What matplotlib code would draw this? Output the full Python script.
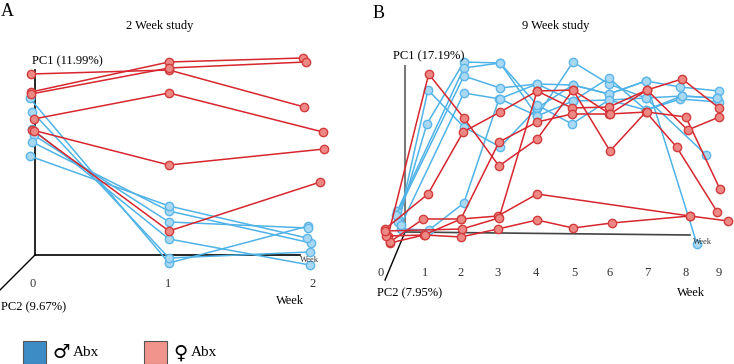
import matplotlib
matplotlib.use("Agg")
import matplotlib.pyplot as plt
from matplotlib.patches import Rectangle

plt.rcParams['font.family'] = ['Liberation Serif', 'DejaVu Sans']

# ---- colours
BLUE_LINE = "#4fb3e8"
BLUE_FACE = "#a9d8f3"
BLUE_EDGE = "#5cb6ea"
RED_LINE = "#d7262e"
RED_FACE = "#ee8884"
RED_EDGE = "#d23c3c"

# ---- 2 week study: (week position, PC1 score) per animal
a_male_weeks = [
    [-0.04, 1.0, 2.04],
    [-0.02, 1.0, 2.05],
    [-0.02, 1.0, 2.05],
    [-0.01, 1.0, 2.04],
    [-0.02, 1.0, 2.06],
    [-0.04, 1.0, 2.03],
]
a_male_pc1 = [
    [15.7, -0.8, 2.9],
    [14.3, -0.3, 0.3],
    [12.6, 1.6, -1.0],
    [12.0, 3.3, 2.7],
    [11.3, 4.4, 1.2],
    [9.9, 4.9, 1.7],
]
a_female_weeks = [
    [-0.03, 1.0, 2.01],
    [-0.03, 1.0, 2.00],
    [-0.03, 1.0, 2.02],
    [-0.01, 1.0, 2.15],
    [-0.02, 1.0, 2.16],
    [-0.01, 1.0, 2.13],
]
a_female_pc1 = [
    [18.1, 18.5, 14.8],
    [16.3, 19.3, 19.7],
    [16.1, 18.7, 19.3],
    [13.6, 16.2, 12.3],
    [12.5, 9.0, 10.6],
    [12.4, 2.4, 7.3],
]

# ---- 9 week study
b_male_weeks = [
    [0.30, 1.08, 2.05, 3.03, 4.03, 5.00, 5.97, 6.97, 7.90, 8.95],
    [0.27, 1.05, 2.05, 3.03, 4.03, 5.00, 5.97, 6.97, 7.95, 8.90],
    [0.35, 1.11, 2.05, 3.00, 4.03, 5.00, 5.97, 6.97, 7.90, 8.95],
    [0.25, 2.05, 3.03, 4.03, 4.97, 5.97, 6.97, 8.60],
    [0.22, 2.05, 3.03, 4.03, 5.00, 5.97, 6.97, 8.35],
    [0.35, 2.05, 3.03, 4.03, 5.00, 5.97, 6.97, 7.95, 8.90],
]
b_male_pc1 = [
    [1.2, 14.2, 10.5, 8.5, 12.4, 14.7, 13.8, 15.1, 14.5, 14.1],
    [1.0, 10.8, 17.0, 16.9, 11.6, 17.0, 14.8, 13.4, 13.6, 13.4],
    [0.3, 0.2, 2.9, 13.3, 14.8, 13.1, 15.4, 12.2, 13.3, 13.0],
    [2.1, 16.4, 16.9, 12.7, 10.8, 13.2, 13.4, 7.7],
    [1.7, 15.6, 14.4, 14.8, 14.7, 13.8, 15.1, -1.2],
    [0.7, 13.9, 13.3, 11.6, 13.1, 13.2, 12.2, 13.6, 13.4],
]
b_female_weeks = [
    [0.00, 1.10, 2.05, 3.00, 4.03, 5.00, 6.00, 6.97, 7.80, 8.90],
    [-0.08, 1.08, 2.03, 3.03, 4.03, 4.97, 5.97, 7.00, 7.95, 8.95],
    [0.05, 0.97, 1.97, 3.00, 4.03, 4.97, 5.97, 7.00, 8.05, 8.97],
    [0.05, 0.95, 1.97, 2.97, 4.03, 8.16, 9.20],
    [-0.05, 1.00, 1.97, 2.97, 4.03, 5.00, 6.05, 8.16],
    [-0.08, 2.00, 3.00, 4.03, 5.00, 6.00, 7.00, 8.10, 8.95],
]
b_female_pc1 = [
    [-0.4, 15.8, 11.4, 6.6, 9.3, 14.2, 8.1, 12.0, 8.5, 2.0],
    [0.3, 3.8, 10.0, 12.0, 14.1, 12.4, 12.5, 14.2, 15.3, 12.4],
    [-1.1, -0.3, 1.3, 9.0, 11.0, 11.8, 11.8, 12.0, 11.5, 4.3],
    [-1.0, 1.3, 1.3, 1.6, 3.8, 1.6, 1.1],
    [-0.4, -0.3, -0.5, 0.3, 1.2, 0.4, 0.9, 1.6],
    [0.1, 0.3, 1.4, 14.1, 14.2, 11.8, 14.2, 10.2, 11.5],
]

a_tick_pos = [-0.015, 0.99, 2.07]
a_tick_labels = ["0", "1", "2"]
b_tick_pos = [-0.19, 1.0, 1.97, 2.97, 4.0, 5.05, 6.0, 7.0, 8.05, 8.95]
b_tick_labels = [str(i) for i in range(10)]


def draw_group(ax, weeks, pc1, line, face, edge):
    for w, v in zip(weeks, pc1):
        ax.plot(w, v, "-", color=line, lw=1.1, marker="o", ms=6,
                mfc=face, mec=edge, mew=1.0, zorder=3)


fig = plt.figure(figsize=(7.34, 3.64), dpi=100)

# ---------------- panel A
axA = fig.add_axes([0, 0, 0.5, 1])
axA.set_xlim(-0.261, 2.478)
axA.set_ylim(-10.9, 25.5)
axA.axis("off")
axA.plot([0, 0], [0, 18.5], color="black", lw=1.2, zorder=1)
axA.plot([0, 1.98], [0, 0], color="black", lw=1.2, zorder=1)
axA.plot([0, -0.261], [0, -3.5], color="black", lw=1.0, zorder=1)
draw_group(axA, a_male_weeks, a_male_pc1, BLUE_LINE, BLUE_FACE, BLUE_EDGE)
draw_group(axA, a_female_weeks, a_female_pc1, RED_LINE, RED_FACE, RED_EDGE)
for p, t in zip(a_tick_pos, a_tick_labels):
    axA.text(p, -2.9, t, ha="center", va="center", fontsize=9, color="#333333")
axA.text(1.98, -0.45, "Week", fontsize=6, ha="left", va="center", color="#333333")
axA.text(1.9, -4.6, "Week", fontsize=9, ha="center", va="center")
axA.text(-0.255, -5.2, "PC2 (9.67%)", fontsize=9, ha="left", va="center")
axA.text(-0.025, 19.4, "PC1 (11.99%)", fontsize=9, ha="left", va="center")
axA.text(0.93, 22.9, "2 Week study", fontsize=9, ha="center", va="center")
axA.text(-0.254, 24.3, "A", fontsize=13, ha="left", va="center")

# ---------------- panel B
axB = fig.add_axes([0.5, 0, 0.5, 1])
axB.set_xlim(-0.568, 9.351)
axB.set_ylim(-13.2, 23.2)
axB.axis("off")
axB.plot([0.46, 0.46], [0, 16.6], color="#7a7a7a", lw=1.5, zorder=1)
axB.plot([0.46, 8.16], [0, -0.3], color="#444444", lw=1.2, zorder=1)
axB.plot([0.46, -0.08], [0, -4.8], color="black", lw=1.0, zorder=1)
draw_group(axB, b_male_weeks, b_male_pc1, BLUE_LINE, BLUE_FACE, BLUE_EDGE)
draw_group(axB, b_female_weeks, b_female_pc1, RED_LINE, RED_FACE, RED_EDGE)
for p, t in zip(b_tick_pos, b_tick_labels):
    axB.text(p, -4.1, t, ha="center", va="center", fontsize=9, color="#333333")
axB.text(8.25, -1.0, "Week", fontsize=6, ha="left", va="center", color="#333333")
axB.text(8.2, -6.1, "Week", fontsize=9, ha="center", va="center")
axB.text(-0.3, -6.1, "PC2 (7.95%)", fontsize=9, ha="left", va="center")
axB.text(0.14, 17.6, "PC1 (17.19%)", fontsize=9, ha="left", va="center")
axB.text(4.54, 20.6, "9 Week study", fontsize=9, ha="center", va="center")
axB.text(-0.26, 21.9, "B", fontsize=13, ha="center", va="center")

# ---------------- legend
W, H = 734.0, 364.0
fig.add_artist(Rectangle((23 / W, 0), 23 / W, 23 / H, transform=fig.transFigure,
                         facecolor="#3d8cc6", edgecolor="#555555", lw=0.8))
fig.text(52 / W, 11 / H, "\u2642", fontsize=14, ha="left", va="center",
         family="DejaVu Sans")
fig.text(73 / W, 11 / H, "Abx", fontsize=11, ha="left", va="center")
fig.add_artist(Rectangle((144 / W, 0), 23 / W, 23 / H, transform=fig.transFigure,
                         facecolor="#f0948c", edgecolor="#555555", lw=0.8))
fig.text(173 / W, 11 / H, "\u2640", fontsize=14, ha="left", va="center",
         family="DejaVu Sans")
fig.text(191 / W, 11 / H, "Abx", fontsize=11, ha="left", va="center")

fig.savefig("out.png", dpi=100)
